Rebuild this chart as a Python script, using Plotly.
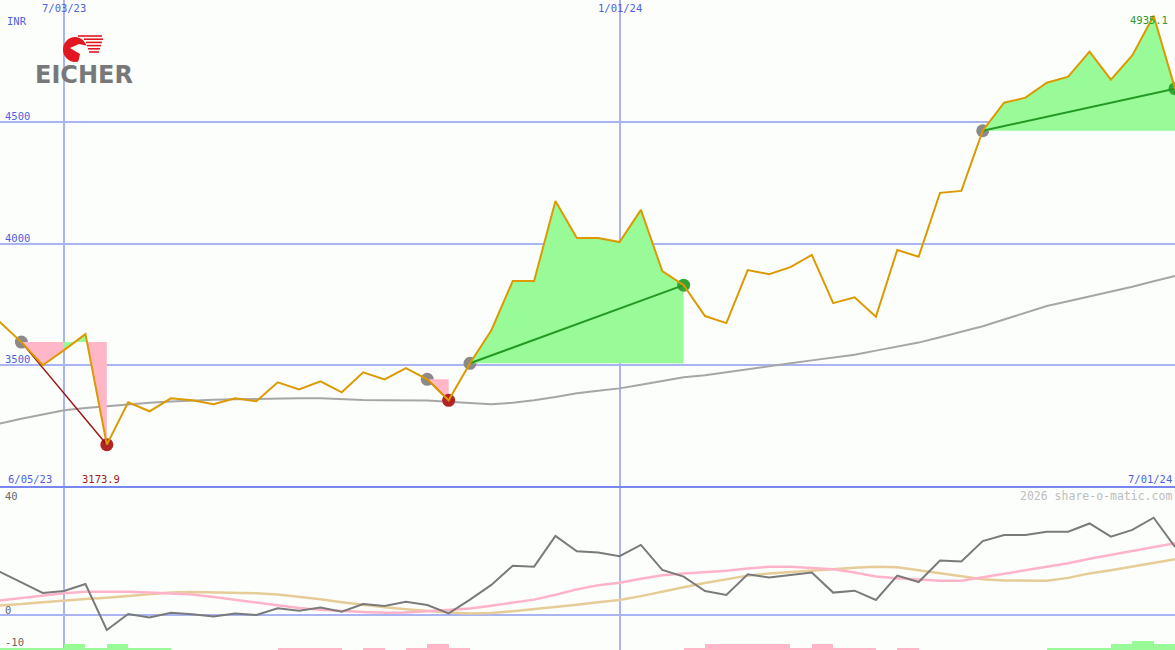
import plotly.graph_objects as go
import pandas as pd

# ---------------- data ----------------
dates = pd.date_range("2023-06-05", periods=57, freq="7D")

price = [3760, 3677, 3595, 3500, 3562, 3628, 3173.9, 3348, 3311, 3364, 3356, 3340,
         3364, 3352, 3430, 3401, 3434, 3389, 3471, 3442, 3488, 3442, 3356, 3508,
         3644, 3846, 3846, 4175, 4023, 4023, 4006, 4138, 3887, 3829, 3702, 3673,
         3891, 3874, 3903, 3953, 3755, 3779, 3699, 3973, 3946, 4208, 4216, 4463,
         4578, 4599, 4660, 4685, 4788, 4673, 4772, 4935.1, 4636]

moving_avg = [3235, 3261, 3280, 3298, 3315, 3324, 3332, 3340, 3346, 3351, 3356, 3358,
              3360, 3362, 3364, 3364, 3364, 3360, 3357, 3356, 3356, 3355, 3350, 3344,
              3340, 3346, 3356, 3370, 3385, 3395, 3405, 3420, 3434, 3451, 3459, 3472,
              3484, 3496, 3508, 3520, 3533, 3543, 3560, 3578, 3593, 3615, 3637, 3660,
              3688, 3716, 3743, 3763, 3782, 3800, 3822, 3845, 3867]

oscillator = [16.5, 13.5, 10.2, 6.9, 7.5, 9.7, -4.7, 0.3, -0.8, 0.7, 0.2, -0.5,
              0.5, 0.0, 2.1, 1.3, 2.3, 1.0, 3.4, 2.8, 4.1, 3.1, 0.5, 4.8,
              9.4, 15.4, 15.1, 24.7, 19.9, 19.5, 18.4, 21.9, 14.1, 12.0, 7.5, 6.25,
              12.7, 11.7, 12.5, 13.3, 7.0, 7.6, 4.7, 12.3, 10.3, 17.0, 16.7, 23.1,
              25.0, 25.0, 26.0, 26.0, 28.6, 24.5, 26.6, 30.4, 21.3]

osc_fast = [4.0, 4.5, 5.3, 6.1, 6.8, 7.3, 7.3, 7.3, 7.0, 6.8, 6.4, 5.6,
            4.7, 3.9, 3.0, 2.2, 1.6, 1.2, 0.9, 0.7, 0.8, 1.2, 1.6, 2.0,
            2.9, 3.75, 4.8, 6.3, 8.0, 9.3, 10.1, 11.3, 12.4, 13.0, 13.4, 13.8,
            14.5, 15.1, 15.1, 14.8, 14.3, 13.3, 12.0, 11.5, 11.0, 10.7, 10.7, 11.8,
            12.9, 14.0, 15.0, 16.2, 17.6, 18.8, 20.0, 21.2, 22.4]

osc_slow = [2.5, 2.9, 3.4, 4.0, 4.6, 5.0, 5.4, 5.9, 6.3, 7.0, 7.2, 7.1,
            7.0, 6.8, 6.4, 5.7, 4.9, 4.0, 3.1, 2.4, 1.8, 1.2, 0.8, 0.5,
            0.6, 1.2, 1.8, 2.5, 3.2, 4.0, 4.7, 5.9, 7.4, 8.7, 10.0, 11.2,
            12.3, 13.0, 13.5, 14.0, 14.5, 14.8, 15.1, 14.9, 14.0, 13.0, 12.0, 11.2,
            10.8, 10.7, 10.7, 11.6, 13.0, 14.0, 15.2, 16.4, 17.4]

signal_bars = [0, 1, 1, 1, 2.8, 1, 2.8, 1, 1, 0, 0, 0,
               0, 0, -1, -1, -1, 0, -1, 0, -1, -2.8, -1, 0,
               0, 0, 0, 0, 0, 0, 0, 0, 0, -1, -2.8, -2.8,
               -2.8, -2.8, -1, -2.8, -1, -1, 0, -1, 0, 0, 0, 0,
               0, 0, 1, 1, 1, 2.8, 4, 2.8, 0]

entry_dates = ["2023-06-19", "2023-10-30", "2023-11-13", "2024-04-29"]
exit_dates = ["2023-07-17", "2023-11-06", "2024-01-22", "2024-07-01"]

grid_dates = ["2023-07-03", "2024-01-01"]
price_grid = [3500, 4000, 4500]
osc_grid = [0]
x_range = ["2023-06-12", "2024-07-01"]
price_range = [3000, 5000]
osc_range = [-10.94, 40]
osc_labels = ["40", "0", "-10"]

# ---------------- style ----------------
W, H = 1175, 650
SPLIT = 1 - 487 / H
BG = "#fcfefc"
GRID = "#a9b5f3"
BLUE_TXT = "#4f5fe0"
GREEN_FILL = "#98fb98"
PINK_FILL = "#ffb6c6"
PRICE_COL = "#dc9a00"
FONT = "DejaVu Sans Mono"
FS = 10.5


def px(x):
    return x / W


def py(y):
    return 1 - y / H


def date_label(d):
    d = pd.Timestamp(d)
    return f"{d.month}/{d.day:02d}/{d.year % 100}"


idx = {d: i for i, d in enumerate(dates.strftime("%Y-%m-%d"))}

fig = go.Figure()

# moving average
fig.add_trace(go.Scatter(x=dates, y=moving_avg, mode="lines",
                         line=dict(color="#a6a6a6", width=2),
                         xaxis="x", yaxis="y", hoverinfo="skip"))

# entry markers
ent_i = [idx[d] for d in entry_dates]
ex_i = [idx[d] for d in exit_dates]
fig.add_trace(go.Scatter(x=[dates[i] for i in ent_i], y=[price[i] for i in ent_i],
                         mode="markers", marker=dict(color="#8a8a8a", size=13),
                         xaxis="x", yaxis="y", hoverinfo="skip"))

# trade fills: runs of segments with the same colour become one polygon
for i, j in zip(ent_i, ex_i):
    ref = price[i]
    cols = [GREEN_FILL if price[k + 1] >= ref else PINK_FILL for k in range(i, j)]
    s = 0
    while s < len(cols):
        e = s
        while e + 1 < len(cols) and cols[e + 1] == cols[s]:
            e += 1
        k0, k1 = i + s, i + e + 1
        xs = [dates[k0]] + list(dates[k0:k1 + 1]) + [dates[k1], dates[k0]]
        ys = [ref] + price[k0:k1 + 1] + [ref, ref]
        fig.add_trace(go.Scatter(x=xs, y=ys, mode="lines", fill="toself",
                                 fillcolor=cols[s], line=dict(width=0),
                                 xaxis="x", yaxis="y", hoverinfo="skip"))
        s = e + 1

# exit markers & trade lines
for i, j in zip(ent_i, ex_i):
    win = price[j] >= price[i]
    fig.add_trace(go.Scatter(x=[dates[j]], y=[price[j]], mode="markers",
                             marker=dict(color="#36a336" if win else "#b02424", size=13),
                             xaxis="x", yaxis="y", hoverinfo="skip"))
    fig.add_trace(go.Scatter(x=[dates[i], dates[j]], y=[price[i], price[j]], mode="lines",
                             line=dict(color="#229922" if win else "#9a1414", width=2 if win else 1.5),
                             xaxis="x", yaxis="y", hoverinfo="skip"))

# price line
fig.add_trace(go.Scatter(x=dates, y=price, mode="lines",
                         line=dict(color=PRICE_COL, width=2),
                         xaxis="x", yaxis="y", hoverinfo="skip"))

# lower panel
fig.add_trace(go.Scatter(x=dates, y=osc_slow, mode="lines",
                         line=dict(color="#e6cd98", width=2.5),
                         xaxis="x2", yaxis="y2", hoverinfo="skip"))
fig.add_trace(go.Scatter(x=dates, y=osc_fast, mode="lines",
                         line=dict(color="#ffb3c9", width=2.5),
                         xaxis="x2", yaxis="y2", hoverinfo="skip"))
fig.add_trace(go.Scatter(x=dates, y=oscillator, mode="lines",
                         line=dict(color="#7a7a7a", width=2),
                         xaxis="x2", yaxis="y2", hoverinfo="skip"))

fig.add_trace(go.Bar(x=dates, y=[abs(v) for v in signal_bars],
                     marker=dict(color=[GREEN_FILL if v > 0 else PINK_FILL for v in signal_bars],
                                 line=dict(width=0)),
                     width=7 * 86400000, offset=0,
                     xaxis="x2", yaxis="y3", hoverinfo="skip"))

axis_common = dict(showline=False, zeroline=False, showticklabels=False, ticks="")

fig.update_layout(
    width=W, height=H, margin=dict(l=0, r=0, t=0, b=0),
    paper_bgcolor=BG, plot_bgcolor=BG, showlegend=False, bargap=0,
    xaxis=dict(domain=[0, 1], anchor="y", type="date", range=x_range,
               tickvals=grid_dates, showgrid=True, gridcolor=GRID, gridwidth=2, **axis_common),
    yaxis=dict(domain=[SPLIT, 1], anchor="x", range=price_range,
               tickvals=price_grid, showgrid=True, gridcolor=GRID, gridwidth=2, **axis_common),
    xaxis2=dict(domain=[0, 1], anchor="y2", type="date", range=x_range,
                tickvals=grid_dates, showgrid=True, gridcolor=GRID, gridwidth=1.5, **axis_common),
    yaxis2=dict(domain=[0, SPLIT], anchor="x2", range=osc_range,
                tickvals=osc_grid, showgrid=True, gridcolor=GRID, gridwidth=2, **axis_common),
    yaxis3=dict(domain=[0, 9 / H], anchor="x2", range=[0, 4], visible=False),
)

# separator between panels
fig.add_shape(type="line", xref="paper", yref="paper", x0=0, x1=1, y0=SPLIT, y1=SPLIT,
              line=dict(color="#7787ee", width=2))

ann = []


def txt(text, x, y, color, xanchor="left", size=FS, xref="paper", font=FONT):
    ann.append(dict(text=text, x=x, y=y, xref=xref, yref="paper", xanchor=xanchor,
                    yanchor="middle", showarrow=False,
                    font=dict(family=font, size=size, color=color)))


txt("INR", px(5), py(21), BLUE_TXT)
for v in price_grid:
    yy = 365 - (v - 3500) * 0.243 - 6
    txt(str(v), px(3), py(yy), BLUE_TXT)
for d in grid_dates:
    ann.append(dict(text=date_label(d), x=d, y=py(8), xref="x", yref="paper",
                    xanchor="center", yanchor="middle", showarrow=False,
                    font=dict(family=FONT, size=FS, color=BLUE_TXT)))
txt(date_label(dates[0]), px(6), py(479), BLUE_TXT)
txt(date_label(dates[-1]), px(1174), py(479), BLUE_TXT, xanchor="right")
txt(f"{min(price):.1f}", px(80), py(479), "#a01c1c")
txt(f"{max(price):.1f}", px(1170), py(20), "#2f9a2f", xanchor="right")
txt("2026 share-o-matic.com", px(1174), py(496), "#bdbdbd", xanchor="right", size=11.5)
txt(osc_labels[0], px(3), py(496), "#666666")
txt(osc_labels[1], px(3), py(610), "#666666")
txt(osc_labels[2], px(3), py(642), "#666666")

# logo
txt("<b>EICHER</b>", px(33), py(75), "#787878", size=24, font="DejaVu Sans")
fig.update_layout(annotations=ann)

fig.add_shape(type="circle", xref="paper", yref="paper",
              x0=px(63), x1=px(87), y0=py(62), y1=py(37),
              fillcolor="#e3161f", line=dict(width=0))


def P(x, y):
    return f"{px(x):.5f},{py(y):.5f}"


notch = "M " + " L ".join(P(a, b) for a, b in [(70, 48), (79, 44), (88, 46), (88, 63), (78, 63), (80, 54)]) + " Z"
fig.add_shape(type="path", xref="paper", yref="paper", path=notch,
              fillcolor=BG, line=dict(width=0))
for n, (x0, x1) in enumerate([(78, 102), (84, 103), (86, 102), (87, 101), (88, 100), (89, 99)]):
    yy = 36 + n * 3.2
    fig.add_shape(type="line", xref="paper", yref="paper", x0=px(x0), x1=px(x1),
                  y0=py(yy), y1=py(yy), line=dict(color="#e3161f", width=1.6))

fig.write_html("out.html", config={"displayModeBar": False},
               post_script="document.body.style.margin='0';")
